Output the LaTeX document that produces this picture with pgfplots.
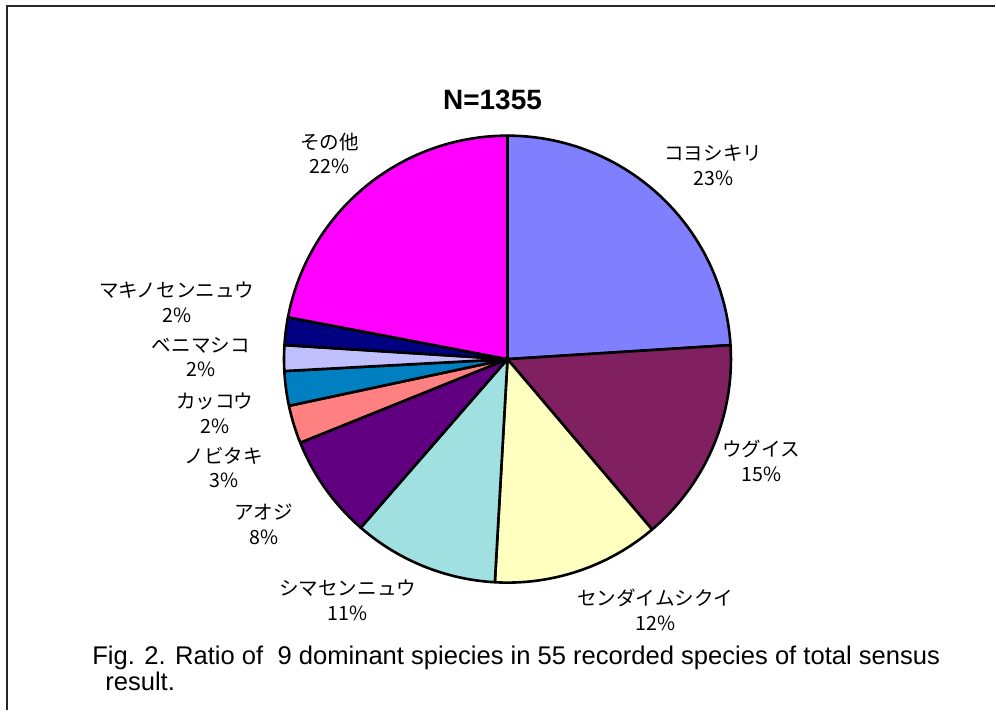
\documentclass[border=0pt]{standalone}
\usepackage{pgfplots}
\usepackage{pgfplotstable}
\pgfplotsset{compat=1.18}
\usepackage{fontspec}
\setmainfont{Liberation Sans}
\newfontfamily\jp{Noto Sans CJK JP}
\definecolor{pie0}{HTML}{8080FF}
\definecolor{pie1}{HTML}{802060}
\definecolor{pie2}{HTML}{FFFFC0}
\definecolor{pie3}{HTML}{A0E0E0}
\definecolor{pie4}{HTML}{600080}
\definecolor{pie5}{HTML}{FF8080}
\definecolor{pie6}{HTML}{0080C0}
\definecolor{pie7}{HTML}{C0C0FF}
\definecolor{pie8}{HTML}{000080}
\definecolor{pie9}{HTML}{FF00FF}
% share of each species (percent), clockwise from 12 o'clock
\pgfplotstableread{
idx pct
0 24.0
1 14.8
2 12.1
3 10.5
4 7.5
5 2.75
6 2.5
7 1.85
8 2.0
9 22.0
}\piedata
\begin{document}
\begin{tikzpicture}
\begin{axis}[
  width=498pt, height=355.5pt, scale only axis,
  xmin=0, xmax=996, ymin=0, ymax=711,
  hide axis, clip=false,
]
\path (rel axis cs:0,0) rectangle (rel axis cs:1,1);
\def\startang{90}
\pgfplotsforeachungrouped \i in {0,...,9}{
  \pgfplotstablegetelem{\i}{pct}\of\piedata
  \pgfmathsetmacro\endang{\startang-3.6*\pgfplotsretval}
  \edef\doplot{\noexpand\addplot[draw=black, line width=1.3pt, line join=round, fill=pie\i, domain=\endang:\startang, samples=90] ({508+223.7*cos(x)},{351.5+223.7*sin(x)}) -- (508,351.5) -- cycle;}
  \doplot
  \global\let\startang\endang
}
\draw[line width=1pt, black!85] (7,0) -- (7,705) -- (996,705);
\node[anchor=base, font=\fontsize{14}{16}\selectfont\bfseries] at (493,601) {N=1355};
\tikzset{lab/.style={align=center, font=\jp\fontsize{9.8}{12.25}\selectfont, inner sep=0pt}}
\node[lab] at (330,557.5) {その他\\22\%};
\node[lab] at (714,545.5) {コヨシキリ\\23\%};
\node[lab] at (762,249.5) {ウグイス\\15\%};
\node[lab] at (656,100.5) {センダイムシクイ\\12\%};
\node[lab] at (348,110) {シマセンニュウ\\11\%};
\node[lab] at (264,186) {アオジ\\8\%};
\node[lab] at (224,243) {ノビタキ\\3\%};
\node[lab] at (215,297.5) {カッコウ\\2\%};
\node[lab] at (201,353.5) {ベニマシコ\\2\%};
\node[lab] at (177,408.5) {マキノセンニュウ\\2\%};
\node[anchor=base west, inner sep=0pt, font=\fontsize{12.8}{15}\selectfont] at (92,46) {Fig. 2. Ratio of \ 9 dominant spiecies in 55 recorded species of total sensus};
\node[anchor=base west, inner sep=0pt, font=\fontsize{12.8}{15}\selectfont] at (105,20) {result.};
\end{axis}
\end{tikzpicture}
\end{document}
